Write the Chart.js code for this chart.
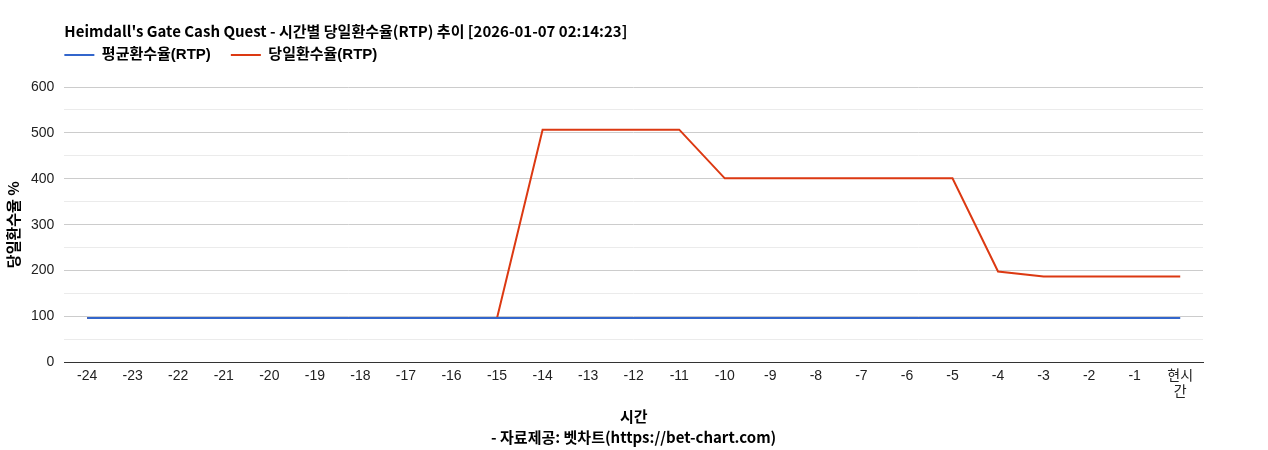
<!DOCTYPE html>
<html>
<head>
<meta charset="utf-8">
<script src="https://cdn.jsdelivr.net/npm/chart.js@4/dist/chart.umd.min.js"></script>
<style>
  html, body { margin: 0; padding: 0; background: #fff; }
  #wrap { position: relative; width: 1268px; height: 450px; }
</style>
</head>
<body>
<div id="wrap"><canvas id="rtpChart"></canvas></div>
<script>
// chart data
const hourLabels = ['-24', '-23', '-22', '-21', '-20', '-19', '-18', '-17', '-16', '-15',
    '-14', '-13', '-12', '-11', '-10', '-9', '-8', '-7', '-6', '-5',
    '-4', '-3', '-2', '-1', '현시간'];
const avgRtp = [97, 97, 97, 97, 97, 97, 97, 97, 97, 97,
    97, 97, 97, 97, 97, 97, 97, 97, 97, 97,
    97, 97, 97, 97, 97];
const dailyRtp = [97, 97, 97, 97, 97, 97, 97, 97, 97, 97,
    507, 507, 507, 507, 401, 401, 401, 401, 401, 401,
    198, 187, 187, 187, 187];
const yTicks = [0, 100, 200, 300, 400, 500, 600];

const chartTitle = "Heimdall's Gate Cash Quest - 시간별 당일환수율(RTP) 추이 [2026-01-07 02:14:23]";
const textFont = "'Liberation Sans', Arial, 'Noto Sans CJK KR', sans-serif";
const boldFont = "'Noto Sans CJK KR', 'Liberation Sans', sans-serif";

// title + legend start at the plot's left edge, legend sits close under the title
const alignToPlot = {
    id: 'alignToPlot',
    afterLayout(chart, args, opts) {
        const left = chart.chartArea.left;
        if (chart.titleBlock) chart.titleBlock.left = left;
        if (chart.legend) {
            chart.legend.left = left - chart.legend.options.labels.padding;
            chart.legend.top -= opts.legendLift;
        }
    }
};

const ctx = document.getElementById('rtpChart').getContext('2d');
new Chart(ctx, {
    type: 'line',
    data: {
        labels: hourLabels,
        datasets: [{
            label: '평균환수율(RTP)',
            data: avgRtp,
            borderColor: '#3366cc',
            backgroundColor: '#3366cc',
            borderWidth: 2,
            pointRadius: 0,
            tension: 0
        }, {
            label: '당일환수율(RTP)',
            data: dailyRtp,
            borderColor: '#dc3912',
            backgroundColor: '#dc3912',
            borderWidth: 2,
            pointRadius: 0,
            tension: 0
        }]
    },
    options: {
        responsive: true,
        maintainAspectRatio: false,
        animation: false,
        layout: {
            padding: { left: 6, right: 65, top: 8, bottom: 2 }
        },
        plugins: {
            alignToPlot: { legendLift: 14.5 },
            title: {
                display: true,
                text: chartTitle,
                align: 'start',
                color: '#000',
                font: { family: boldFont, size: 15, weight: 'bold' },
                padding: { top: 14, bottom: 2 }
            },
            legend: {
                position: 'top',
                align: 'start',
                labels: {
                    usePointStyle: true,
                    pointStyle: 'line',
                    pointStyleWidth: 30,
                    padding: 20,
                    color: '#000',
                    font: { family: textFont, size: 15, weight: 'bold' }
                }
            },
            tooltip: { enabled: false }
        },
        scales: {
            x: {
                offset: true,
                grid: { display: false, drawTicks: false },
                border: { color: '#333', width: 1 },
                ticks: {
                    color: '#222',
                    padding: 5,
                    maxRotation: 0,
                    autoSkip: false,
                    font: { family: textFont, size: 14 },
                    callback: function(value) {
                        const label = this.getLabelForValue(value);
                        return label === '현시간' ? ['현시', '간'] : label;
                    }
                },
                title: {
                    display: true,
                    text: ['시간', '- 자료제공: 벳차트(https://bet-chart.com)'],
                    color: '#000',
                    font: { family: boldFont, size: 15, weight: 'bold', lineHeight: 1.4 },
                    padding: { top: 0, bottom: 0 }
                }
            },
            y: {
                min: yTicks[0],
                max: yTicks[yTicks.length - 1],
                border: { display: false },
                grid: {
                    drawTicks: false,
                    color: function(context) {
                        return context.tick.value % 100 === 0 ? '#cccccc' : '#ebebeb';
                    }
                },
                ticks: {
                    stepSize: 50,
                    padding: 10,
                    color: '#222',
                    font: { family: textFont, size: 14 },
                    callback: function(value) {
                        return yTicks.includes(value) ? value : '';
                    }
                },
                title: {
                    display: true,
                    text: '당일환수율 %',
                    color: '#000',
                    font: { family: boldFont, size: 15, weight: 'bold', lineHeight: 1 },
                    padding: { top: 0, bottom: 0 }
                }
            }
        }
    },
    plugins: [alignToPlot]
});
</script>
</body>
</html>
